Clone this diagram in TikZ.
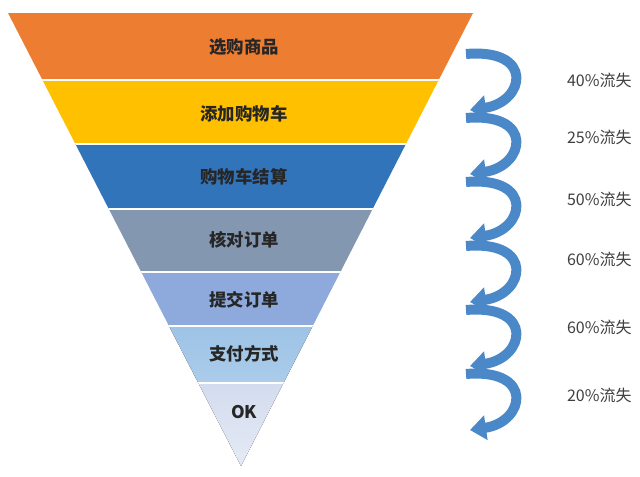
\documentclass[tikz,border=0pt]{standalone}
\usepackage{fontspec}
\setmainfont{Noto Sans CJK SC}
\usepackage{tikz}
\usetikzlibrary{arrows.meta}
\definecolor{cOrange}{HTML}{ED7D31}
\definecolor{cYellow}{HTML}{FFC000}
\definecolor{cBlue}{HTML}{3274BA}
\definecolor{cSlate}{HTML}{8497B0}
\definecolor{cLilac}{HTML}{8EAADC}
\definecolor{cSky}{HTML}{9DC3E6}
\definecolor{cPale}{HTML}{D3DCEE}
\definecolor{cCurl}{HTML}{4A88C8}
\tikzset{band/.style={font=\bfseries\fontsize{8.7}{10}\selectfont, text=black!85},
  loss/.style={font=\fontsize{8}{10}\selectfont, text=black!75, anchor=west},
  sep/.style={white, line width=1pt},
  curl/.style={cCurl, line width=5pt, -{Triangle[length=8pt,width=12pt]}}}

\begin{document}
\begin{tikzpicture}[x=0.5pt,y=-0.5pt]
\useasboundingbox (0,0) rectangle (640,476);
\fill[white] (0,0) rectangle (640,476);

% funnel
\begin{scope}
\clip (8,13) -- (473,13) -- (241,466) -- cycle;
\fill[cOrange] (0,13) rectangle (640,80);
\fill[cYellow] (0,80) rectangle (640,144);
\fill[cBlue] (0,144) rectangle (640,209);
\fill[cSlate] (0,209) rectangle (640,272);
\fill[cLilac] (0,272) rectangle (640,326);
\fill[top color=cSky, bottom color=cSky!85!white] (0,326) rectangle (640,383);
\fill[top color=cPale, bottom color=cPale!60!white] (0,383) rectangle (640,466);
\draw[sep] (0,80) -- (640,80);
\draw[sep] (0,144) -- (640,144);
\draw[sep] (0,209) -- (640,209);
\draw[sep] (0,272) -- (640,272);
\draw[sep] (0,326) -- (640,326);
\draw[sep] (0,383) -- (640,383);
\end{scope}

\node[band] (b1) at (244,47) {选购商品};
\node[band] (b2) at (244,114) {添加购物车};
\node[band] (b3) at (244,177) {购物车结算};
\node[band] (b4) at (244,240) {核对订单};
\node[band] (b5) at (244,300) {提交订单};
\node[band] (b6) at (244,354) {支付方式};
\node[band] (b7) at (244,412) {OK};

% curls
\coordinate (t1) at (466,54);  \coordinate (h1) at (470,110);
\coordinate (t2) at (466,118); \coordinate (h2) at (470,174);
\coordinate (t3) at (466,182); \coordinate (h3) at (470,238);
\coordinate (t4) at (466,246); \coordinate (h4) at (470,302);
\coordinate (t5) at (466,310); \coordinate (h5) at (470,366);
\coordinate (t6) at (466,374); \coordinate (h6) at (470,430);
\draw[curl] (t1) .. controls +(69,-6) and +(55,-8) .. (h1);
\draw[curl] (t2) .. controls +(69,-6) and +(55,-8) .. (h2);
\draw[curl] (t3) .. controls +(69,-6) and +(55,-8) .. (h3);
\draw[curl] (t4) .. controls +(69,-6) and +(55,-8) .. (h4);
\draw[curl] (t5) .. controls +(69,-6) and +(55,-8) .. (h5);
\draw[curl] (t6) .. controls +(69,-6) and +(55,-8) .. (h6);

\node[loss] (l1) at (560,80) {40\%流失};
\node[loss] (l2) at (560,137) {25\%流失};
\node[loss] (l3) at (560,199) {50\%流失};
\node[loss] (l4) at (560,259) {60\%流失};
\node[loss] (l5) at (560,327) {60\%流失};
\node[loss] (l6) at (560,395) {20\%流失};
\end{tikzpicture}
\end{document}
